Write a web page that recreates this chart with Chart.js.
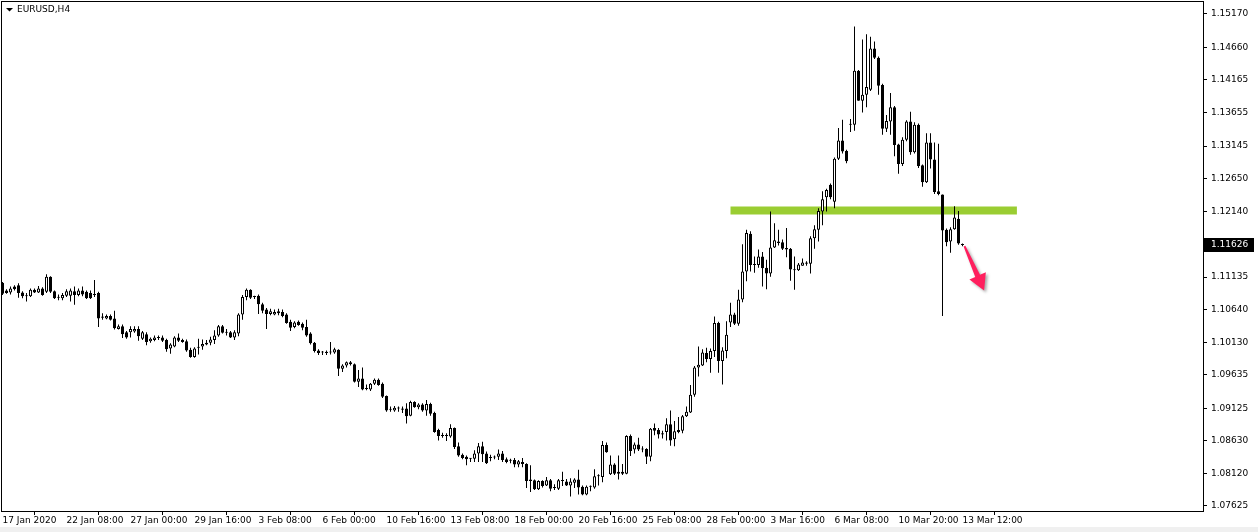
<!DOCTYPE html>
<html>
<head>
<meta charset="utf-8">
<title>EURUSD,H4</title>
<script src="https://cdn.jsdelivr.net/npm/chart.js@4.4.1/dist/chart.umd.min.js"></script>
<style>
  html, body { margin: 0; padding: 0; background: #f0f0f0; }
  #wrap { position: relative; width: 1258px; height: 527px; background: #fff; }
  canvas { display: block; }
</style>
</head>
<body>
<div id="wrap"><canvas id="chart" width="1258" height="527"></canvas></div>
<script>
// EURUSD H4, 17 Jan 2020 16:00 -> 13 Mar 2020 12:00 (one bar every 4h)
const symbolTitle = 'EURUSD,H4';

const xTickIdx = [0, 16, 32, 48, 64, 80, 96, 112, 128, 144, 160, 176, 192, 208, 224, 240];
const xTickLabels = ['17 Jan 2020', '22 Jan 08:00', '27 Jan 00:00', '29 Jan 16:00', '3 Feb 08:00',
  '6 Feb 00:00', '10 Feb 16:00', '13 Feb 08:00', '18 Feb 00:00', '20 Feb 16:00', '25 Feb 08:00',
  '28 Feb 00:00', '3 Mar 16:00', '6 Mar 08:00', '10 Mar 20:00', '13 Mar 12:00'];

const yTickVals = [1.15170, 1.14660, 1.14165, 1.13655, 1.13145, 1.12650, 1.12140,
  1.11135, 1.10640, 1.10130, 1.09635, 1.09125, 1.08630, 1.08120, 1.07625];

const open = [
  1.1105, 1.1093, 1.1090, 1.1099, 1.1101, 1.1090, 1.1084, 1.1084, 1.1094, 1.1090,
  1.1096, 1.1091, 1.1114, 1.1092, 1.1082, 1.1081, 1.1085, 1.1085, 1.1092, 1.1086,
  1.1093, 1.1091, 1.1089, 1.1086, 1.1089, 1.1053, 1.1050, 1.1054, 1.1050, 1.1034,
  1.1038, 1.1029, 1.1029, 1.1030, 1.1034, 1.1019, 1.1026, 1.1015, 1.1017, 1.1020,
  1.1021, 1.1017, 1.1004, 1.1007, 1.1021, 1.1017, 1.1015, 1.1002, 1.0991, 1.1005,
  1.1007, 1.1013, 1.1013, 1.1017, 1.1024, 1.1038, 1.1028, 1.1029, 1.1021, 1.1027,
  1.1056, 1.1083, 1.1094, 1.1083, 1.1085, 1.1072, 1.1064, 1.1057, 1.1056, 1.1061,
  1.1060, 1.1056, 1.1045, 1.1037, 1.1045, 1.1042, 1.1037, 1.1027, 1.1013, 1.1001,
  1.0998, 1.0999, 1.0998, 1.0998, 1.1002, 1.0973, 1.0978, 1.0983, 1.0980, 1.0953,
  1.0958, 1.0942, 1.0941, 1.0950, 1.0956, 1.0950, 1.0931, 1.0911, 1.0909, 1.0912,
  1.0912, 1.0912, 1.0901, 1.0922, 1.0914, 1.0918, 1.0909, 1.0919, 1.0905, 1.0879,
  1.0870, 1.0871, 1.0869, 1.0882, 1.0854, 1.0841, 1.0838, 1.0835, 1.0835, 1.0843,
  1.0854, 1.0843, 1.0836, 1.0838, 1.0838, 1.0843, 1.0834, 1.0832, 1.0833, 1.0826,
  1.0830, 1.0827, 1.0803, 1.0802, 1.0788, 1.0801, 1.0794, 1.0802, 1.0790, 1.0789,
  1.0802, 1.0800, 1.0794, 1.0798, 1.0803, 1.0792, 1.0780, 1.0792, 1.0791, 1.0808,
  1.0807, 1.0856, 1.0811, 1.0826, 1.0815, 1.0812, 1.0812, 1.0870, 1.0849, 1.0857,
  1.0850, 1.0850, 1.0838, 1.0882, 1.0879, 1.0874, 1.0876, 1.0888, 1.0865, 1.0876,
  1.0878, 1.0900, 1.0906, 1.0933, 1.0975, 1.0978, 1.0997, 1.0988, 1.1000, 1.1043,
  1.0985, 1.1000, 1.1044, 1.1056, 1.1042, 1.1079, 1.1122, 1.1180, 1.1133, 1.1132,
  1.1145, 1.1128, 1.1119, 1.1159, 1.1168, 1.1167, 1.1158, 1.1157, 1.1125, 1.1124,
  1.1131, 1.1136, 1.1134, 1.1173, 1.1186, 1.1214, 1.1236, 1.1255, 1.1229, 1.1295,
  1.1323, 1.1307, 1.1347, 1.1347, 1.1430, 1.1384, 1.1393, 1.1401, 1.1464, 1.1450,
  1.1408, 1.1341, 1.1352, 1.1374, 1.1317, 1.1287, 1.1324, 1.1352, 1.1305, 1.1347,
  1.1285, 1.1259, 1.1320, 1.1294, 1.1245, 1.1240, 1.1186, 1.1168, 1.1187, 1.1203,
  1.1164
];
const high = [
  1.1106, 1.1095, 1.1099, 1.1101, 1.1104, 1.1092, 1.1089, 1.1096, 1.1096, 1.1100,
  1.1098, 1.1118, 1.1115, 1.1093, 1.1087, 1.1089, 1.1095, 1.1096, 1.1099, 1.1096,
  1.1099, 1.1093, 1.1093, 1.1109, 1.1091, 1.1058, 1.1056, 1.1056, 1.1062, 1.1041,
  1.1041, 1.1031, 1.1038, 1.1038, 1.1038, 1.1031, 1.1029, 1.1021, 1.1024, 1.1024,
  1.1024, 1.1019, 1.1012, 1.1023, 1.1027, 1.1019, 1.1018, 1.1005, 1.1006, 1.1019,
  1.1018, 1.1017, 1.1022, 1.1032, 1.1040, 1.1040, 1.1034, 1.1031, 1.1032, 1.1058,
  1.1086, 1.1096, 1.1095, 1.1085, 1.1087, 1.1074, 1.1066, 1.1065, 1.1064, 1.1065,
  1.1064, 1.1058, 1.1048, 1.1046, 1.1047, 1.1044, 1.1048, 1.1029, 1.1014, 1.1003,
  1.1000, 1.1001, 1.1014, 1.1005, 1.1003, 1.0980, 1.0984, 1.0985, 1.0981, 1.0971,
  1.0975, 1.0949, 1.0951, 1.0958, 1.0958, 1.0952, 1.0932, 1.0915, 1.0916, 1.0915,
  1.0915, 1.0920, 1.0924, 1.0923, 1.0920, 1.0920, 1.0925, 1.0921, 1.0907, 1.0881,
  1.0875, 1.0874, 1.0888, 1.0883, 1.0860, 1.0843, 1.0840, 1.0836, 1.0848, 1.0859,
  1.0861, 1.0846, 1.0841, 1.0840, 1.0849, 1.0847, 1.0837, 1.0835, 1.0836, 1.0833,
  1.0836, 1.0828, 1.0825, 1.0803, 1.0802, 1.0802, 1.0807, 1.0804, 1.0796, 1.0804,
  1.0815, 1.0804, 1.0805, 1.0805, 1.0818, 1.0794, 1.0794, 1.0794, 1.0819, 1.0811,
  1.0862, 1.0860, 1.0840, 1.0828, 1.0840, 1.0827, 1.0871, 1.0872, 1.0860, 1.0867,
  1.0854, 1.0851, 1.0882, 1.0889, 1.0882, 1.0878, 1.0897, 1.0909, 1.0893, 1.0899,
  1.0902, 1.0915, 1.0948, 1.0977, 1.1007, 1.1003, 1.1005, 1.1004, 1.1053, 1.1045,
  1.1006, 1.1046, 1.1074, 1.1059, 1.1094, 1.1164, 1.1186, 1.1184, 1.1145, 1.1156,
  1.1152, 1.1140, 1.1214, 1.1196, 1.1186, 1.1171, 1.1189, 1.1158, 1.1145, 1.1135,
  1.1142, 1.1138, 1.1176, 1.1193, 1.1219, 1.1245, 1.1249, 1.1257, 1.1297, 1.1342,
  1.1355, 1.1309, 1.1356, 1.1498, 1.1431, 1.1478, 1.1486, 1.1482, 1.1475, 1.1452,
  1.1410, 1.1362, 1.1396, 1.1376, 1.1318, 1.1328, 1.1354, 1.1367, 1.1351, 1.1349,
  1.1286, 1.1334, 1.1334, 1.1320, 1.1318, 1.1240, 1.1188, 1.1190, 1.1222, 1.1215,
  1.1165
];
const low = [
  1.1086, 1.1088, 1.1087, 1.1093, 1.1082, 1.1081, 1.1076, 1.1083, 1.1089, 1.1089,
  1.1085, 1.1089, 1.1089, 1.1080, 1.1078, 1.1078, 1.1083, 1.1076, 1.1071, 1.1084,
  1.1084, 1.1080, 1.1080, 1.1083, 1.1037, 1.1048, 1.1049, 1.1047, 1.1033, 1.1033,
  1.1020, 1.1019, 1.1021, 1.1028, 1.1016, 1.1017, 1.1009, 1.1013, 1.1015, 1.1017,
  1.1014, 1.0999, 1.0996, 1.1006, 1.1014, 1.1013, 1.0999, 1.0990, 1.0990, 1.0995,
  1.1002, 1.1009, 1.1009, 1.1011, 1.1022, 1.1027, 1.1024, 1.1020, 1.1017, 1.1023,
  1.1048, 1.1078, 1.1080, 1.1080, 1.1057, 1.1058, 1.1034, 1.1055, 1.1055, 1.1055,
  1.1052, 1.1042, 1.1031, 1.1035, 1.1039, 1.1032, 1.1022, 1.1010, 1.0998, 1.0994,
  1.0994, 1.0994, 1.0995, 1.0996, 1.0962, 1.0968, 1.0975, 1.0978, 1.0952, 1.0945,
  1.0940, 1.0940, 1.0939, 1.0948, 1.0947, 1.0928, 1.0907, 1.0907, 1.0907, 1.0907,
  1.0905, 1.0889, 1.0900, 1.0913, 1.0911, 1.0907, 1.0901, 1.0901, 1.0875, 1.0863,
  1.0867, 1.0862, 1.0867, 1.0850, 1.0838, 1.0834, 1.0825, 1.0830, 1.0830, 1.0830,
  1.0830, 1.0827, 1.0831, 1.0834, 1.0833, 1.0830, 1.0828, 1.0828, 1.0822, 1.0822,
  1.0822, 1.0790, 1.0784, 1.0787, 1.0787, 1.0791, 1.0793, 1.0785, 1.0787, 1.0787,
  1.0793, 1.0793, 1.0777, 1.0790, 1.0780, 1.0779, 1.0779, 1.0785, 1.0789, 1.0794,
  1.0799, 1.0844, 1.0810, 1.0810, 1.0803, 1.0810, 1.0811, 1.0839, 1.0843, 1.0847,
  1.0845, 1.0827, 1.0831, 1.0871, 1.0866, 1.0866, 1.0863, 1.0855, 1.0854, 1.0874,
  1.0874, 1.0899, 1.0905, 1.0930, 1.0961, 1.0977, 1.0983, 1.0967, 1.0991, 1.0967,
  1.0949, 1.0989, 1.1037, 1.1040, 1.1039, 1.1075, 1.1107, 1.1122, 1.1120, 1.1128,
  1.1099, 1.1095, 1.1114, 1.1158, 1.1162, 1.1155, 1.1144, 1.1108, 1.1094, 1.1123,
  1.1131, 1.1131, 1.1119, 1.1157, 1.1168, 1.1193, 1.1214, 1.1233, 1.1219, 1.1293,
  1.1303, 1.1288, 1.1336, 1.1338, 1.1384, 1.1366, 1.1374, 1.1399, 1.1448, 1.1393,
  1.1332, 1.1336, 1.1332, 1.1299, 1.1272, 1.1284, 1.1322, 1.1301, 1.1303, 1.1281,
  1.1252, 1.1258, 1.1280, 1.1241, 1.1239, 1.1054, 1.1161, 1.1151, 1.1186, 1.1163,
  1.1161
];
const close = [
  1.1088, 1.1089, 1.1096, 1.1095, 1.1089, 1.1084, 1.1085, 1.1094, 1.1090, 1.1096,
  1.1086, 1.1114, 1.1091, 1.1081, 1.1083, 1.1086, 1.1092, 1.1093, 1.1086, 1.1093,
  1.1087, 1.1081, 1.1081, 1.1087, 1.1050, 1.1051, 1.1054, 1.1048, 1.1035, 1.1038,
  1.1026, 1.1021, 1.1034, 1.1034, 1.1023, 1.1029, 1.1014, 1.1019, 1.1021, 1.1020,
  1.1016, 1.1003, 1.1010, 1.1021, 1.1016, 1.1014, 1.1001, 1.0991, 1.1004, 1.1006,
  1.1011, 1.1010, 1.1018, 1.1024, 1.1038, 1.1028, 1.1028, 1.1021, 1.1029, 1.1056,
  1.1083, 1.1094, 1.1082, 1.1083, 1.1072, 1.1062, 1.1057, 1.1061, 1.1060, 1.1058,
  1.1054, 1.1043, 1.1036, 1.1044, 1.1040, 1.1036, 1.1024, 1.1012, 1.1000, 1.0997,
  1.0998, 1.0997, 1.0999, 1.1003, 1.0973, 1.0978, 1.0983, 1.0980, 1.0953, 1.0958,
  1.0941, 1.0943, 1.0950, 1.0956, 1.0948, 1.0930, 1.0909, 1.0910, 1.0913, 1.0912,
  1.0910, 1.0900, 1.0922, 1.0914, 1.0918, 1.0909, 1.0919, 1.0904, 1.0876, 1.0870,
  1.0871, 1.0870, 1.0882, 1.0853, 1.0840, 1.0836, 1.0834, 1.0835, 1.0843, 1.0854,
  1.0842, 1.0828, 1.0837, 1.0837, 1.0843, 1.0833, 1.0830, 1.0832, 1.0826, 1.0831,
  1.0827, 1.0801, 1.0801, 1.0788, 1.0801, 1.0793, 1.0802, 1.0789, 1.0790, 1.0802,
  1.0801, 1.0794, 1.0800, 1.0803, 1.0791, 1.0780, 1.0792, 1.0792, 1.0808, 1.0809,
  1.0856, 1.0845, 1.0826, 1.0812, 1.0812, 1.0815, 1.0870, 1.0847, 1.0857, 1.0849,
  1.0849, 1.0838, 1.0881, 1.0878, 1.0872, 1.0872, 1.0888, 1.0863, 1.0877, 1.0879,
  1.0900, 1.0907, 1.0933, 1.0975, 1.0979, 1.0998, 1.0988, 1.1000, 1.1043, 1.0985,
  1.1001, 1.1025, 1.1056, 1.1042, 1.1079, 1.1122, 1.1181, 1.1132, 1.1132, 1.1145,
  1.1127, 1.1119, 1.1159, 1.1170, 1.1166, 1.1157, 1.1156, 1.1125, 1.1124, 1.1133,
  1.1136, 1.1134, 1.1173, 1.1187, 1.1215, 1.1233, 1.1247, 1.1236, 1.1295, 1.1323,
  1.1306, 1.1291, 1.1347, 1.1430, 1.1384, 1.1393, 1.1405, 1.1464, 1.1450, 1.1407,
  1.1341, 1.1353, 1.1374, 1.1316, 1.1287, 1.1324, 1.1352, 1.1305, 1.1347, 1.1284,
  1.1259, 1.1320, 1.1294, 1.1244, 1.1241, 1.1185, 1.1167, 1.1187, 1.1205, 1.1165,
  1.11626
];

// horizontal level and the arrow drawn on the chart (bar index, price)
const levelPrice = 1.12157;
const levelFrom = 182;
const levelTo = 253.6;
const arrowFrom = [240.5, 1.1161];
const arrowTo = [245.4, 1.1093];

const isBull = i => close[i] > open[i];
const bodies = open.map((o, i) => ({ x: i, y: [Math.min(o, close[i]), Math.max(o, close[i])] }));
const wicks = open.map((o, i) => ({ x: i, y: [low[i], high[i]] }));

const FONT = { family: 'DejaVu Sans', size: 9 };

// frame, title, last price box, arrow
const overlay = {
  id: 'overlay',
  afterDraw(chart) {
    const { ctx, chartArea: a, scales: { x, y } } = chart;
    ctx.save();

    ctx.strokeStyle = '#000';
    ctx.lineWidth = 1;
    ctx.strokeRect(a.left + 0.5, a.top + 0.5, a.right - a.left, a.bottom - a.top);

    // title
    ctx.fillStyle = '#000';
    ctx.beginPath();
    ctx.moveTo(6, 8); ctx.lineTo(13, 8); ctx.lineTo(9.5, 11.5);
    ctx.closePath();
    ctx.fill();
    ctx.font = '9px "DejaVu Sans"';
    ctx.textBaseline = 'middle';
    ctx.textAlign = 'left';
    ctx.fillText(symbolTitle, 17, 10);

    // last price
    const last = close[close.length - 1];
    const py = Math.round(y.getPixelForValue(last));
    ctx.fillStyle = '#000';
    ctx.fillRect(a.right + 1, py - 7, 50, 14);
    ctx.fillStyle = '#fff';
    ctx.fillText(last.toFixed(5), a.right + 8, py);

    // arrow
    const x0 = x.getPixelForValue(arrowFrom[0]), y0 = y.getPixelForValue(arrowFrom[1]);
    const x1 = x.getPixelForValue(arrowTo[0]), y1 = y.getPixelForValue(arrowTo[1]);
    const len = Math.hypot(x1 - x0, y1 - y0);
    const ux = (x1 - x0) / len, uy = (y1 - y0) / len;
    const nx = -uy, ny = ux;
    const headLen = 16, headHalf = 9;
    const bx = x1 - ux * headLen, by = y1 - uy * headLen;
    ctx.shadowColor = 'rgba(0,0,0,0.35)';
    ctx.shadowBlur = 3;
    ctx.shadowOffsetX = 2;
    ctx.shadowOffsetY = 2;
    ctx.fillStyle = '#ff1f5e';
    ctx.beginPath();
    ctx.moveTo(x0 + nx * 1, y0 + ny * 1);
    ctx.lineTo(bx + nx * 2.6, by + ny * 2.6);
    ctx.lineTo(bx + nx * headHalf, by + ny * headHalf);
    ctx.lineTo(x1, y1);
    ctx.lineTo(bx - nx * headHalf, by - ny * headHalf);
    ctx.lineTo(bx - nx * 2.6, by - ny * 2.6);
    ctx.lineTo(x0 - nx * 1, y0 - ny * 1);
    ctx.closePath();
    ctx.fill();

    ctx.restore();
  }
};

new Chart(document.getElementById('chart'), {
  type: 'bar',
  data: {
    datasets: [
      {
        type: 'line',
        data: [{ x: levelFrom, y: levelPrice }, { x: levelTo, y: levelPrice }],
        borderColor: '#9acd32',
        borderWidth: 8,
        borderCapStyle: 'butt',
        pointRadius: 0,
        order: 3
      },
      {
        data: wicks,
        backgroundColor: '#000',
        borderWidth: 0,
        barThickness: 1,
        grouped: false,
        inflateAmount: 0,
        order: 2
      },
      {
        data: bodies,
        backgroundColor: ctx => isBull(ctx.dataIndex) ? '#fff' : '#000',
        borderColor: '#000',
        borderWidth: 1,
        borderSkipped: false,
        barThickness: 3,
        minBarLength: 1,
        grouped: false,
        inflateAmount: 0,
        order: 1
      }
    ]
  },
  options: {
    responsive: false,
    devicePixelRatio: 1,
    animation: false,
    events: [],
    layout: { padding: { left: 1, top: 1, right: 0, bottom: 0 } },
    plugins: { legend: { display: false }, tooltip: { enabled: false } },
    scales: {
      x: {
        type: 'linear',
        min: -0.375,
        max: 300.125,
        offset: false,
        bounds: 'data',
        afterBuildTicks: s => { s.ticks = xTickIdx.map(v => ({ value: v })); },
        afterFit: s => { s.height = 16; s.paddingLeft = 0; s.paddingRight = 0; },
        grid: { drawOnChartArea: false, drawTicks: true, tickLength: 4, color: '#000' },
        border: { display: false },
        ticks: {
          autoSkip: false, maxRotation: 0, minRotation: 0, align: 'start', padding: 0,
          color: '#000', font: FONT,
          callback: (v, i) => xTickLabels[i]
        }
      },
      y: {
        type: 'linear',
        position: 'right',
        min: 1.075483,
        max: 1.153692,
        bounds: 'data',
        afterBuildTicks: s => { s.ticks = yTickVals.map(v => ({ value: v })); },
        afterFit: s => { s.width = 55; s.paddingTop = 0; s.paddingBottom = 0; },
        grid: { drawOnChartArea: false, drawTicks: true, tickLength: 4, color: '#000' },
        border: { display: false },
        ticks: {
          autoSkip: false, padding: 4, color: '#000', font: FONT,
          callback: v => v.toFixed(5)
        }
      }
    }
  },
  plugins: [overlay]
});
</script>
</body>
</html>
